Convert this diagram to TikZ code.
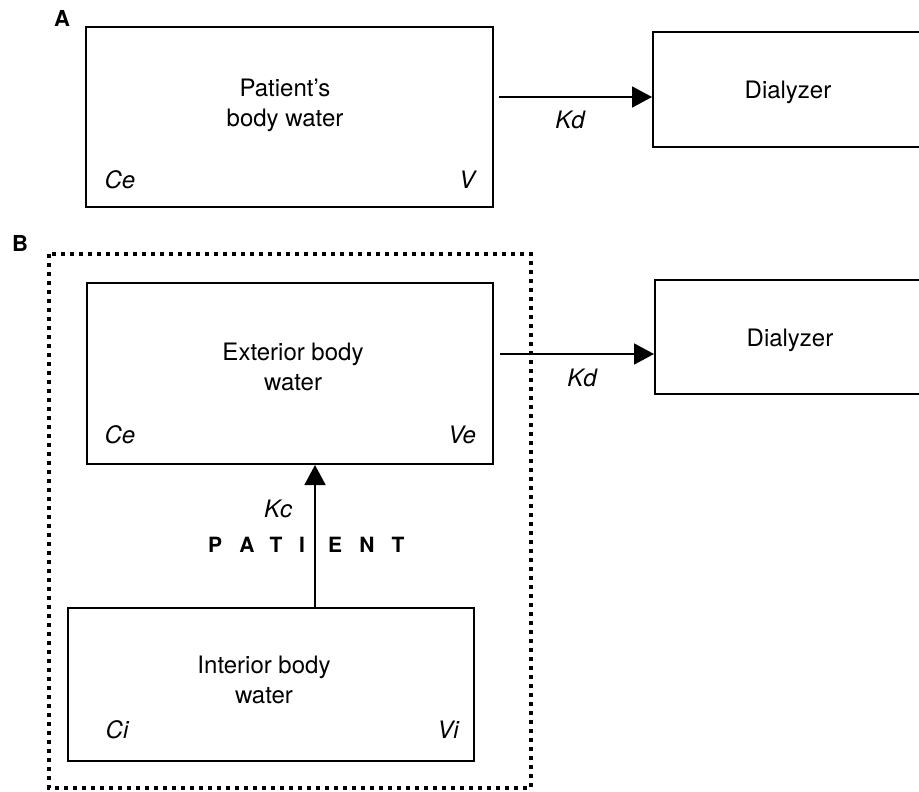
\documentclass[tikz,border=0pt]{standalone}
\usepackage{fontspec}
\setmainfont{TeX Gyre Heros}
\usetikzlibrary{arrows.meta}

\begin{document}
\begin{tikzpicture}[x=0.5pt,y=-0.5pt,
	every node/.style={font=\fontsize{12}{15}\selectfont},
	box/.style={draw, line width=1pt, inner sep=0pt},
	txt/.style={align=center},
	var/.style={font=\fontsize{12}{15}\selectfont\itshape},
	panel/.style={font=\fontsize{11}{13}\selectfont\bfseries},
	pletter/.style={font=\fontsize{10.5}{12}\selectfont\bfseries},
	flow/.style={line width=0.9pt, -{Triangle[length=10pt,width=10.5pt]}},
	patientline/.style={line width=2pt, dash pattern=on 2pt off 2.5pt}]
	\useasboundingbox (0,0) rectangle (919,791);
	\clip (0,0) rectangle (919,791);

	\node[panel] (pa) at (62,18) {A};
	\node[panel] (pb) at (20,243) {B};

	% A
	\node[box, minimum width=203.5pt, minimum height=90pt] (pbw) at (289.5,117) {};
	\node[txt] (pbwtext) at (285,105) {Patient's\\body water};
	\node[var] (cea) at (120,180) {Ce};
	\node[var] (va) at (467,180) {V};
	\node[box, minimum width=136pt, minimum height=57.5pt] (dia1) at (789,89.5) {};
	\node (dia1text) at (788,92) {Dialyzer};
	\draw[flow] ([xshift=2.5pt]pbw.east |- 0,97) -- (dia1.west |- 0,97);
	\node[var] (kda) at (570,120) {Kd};

	% B
	\draw[patientline] (49,254) rectangle (531,788);
	\node[box, minimum width=203pt, minimum height=90.5pt] (ext) at (290,373.5) {};
	\node[txt] (exttext) at (293,367) {Exterior body\\water};
	\node[var] (ceb) at (120,435) {Ce};
	\node[var] (veb) at (462,435) {Ve};
	\node[box, minimum width=135pt, minimum height=57pt] (dia2) at (790,337) {};
	\node (dia2text) at (790,340) {Dialyzer};
	\draw[flow] ([xshift=3pt]ext.east |- 0,354) -- (dia2.west |- 0,354);
	\node[var] (kdb) at (582,378) {Kd};

	\node[box, minimum width=203pt, minimum height=76.5pt] (int) at (271,684.5) {};
	\node[txt] (inttext) at (264,680) {Interior body\\water};
	\node[var] (cib) at (117,730) {Ci};
	\node[var] (vib) at (448,730) {Vi};
	\draw[flow] (int.north -| 315,0) -- (ext.south -| 315,0);
	\node[var] (kc) at (278,509) {Kc};
	\foreach \ch/\cx in {P/215, A/247, T/276, I/302, E/335, N/367, T/398}
		\node[pletter] (pat\cx) at (\cx,545) {\ch};
\end{tikzpicture}
\end{document}
